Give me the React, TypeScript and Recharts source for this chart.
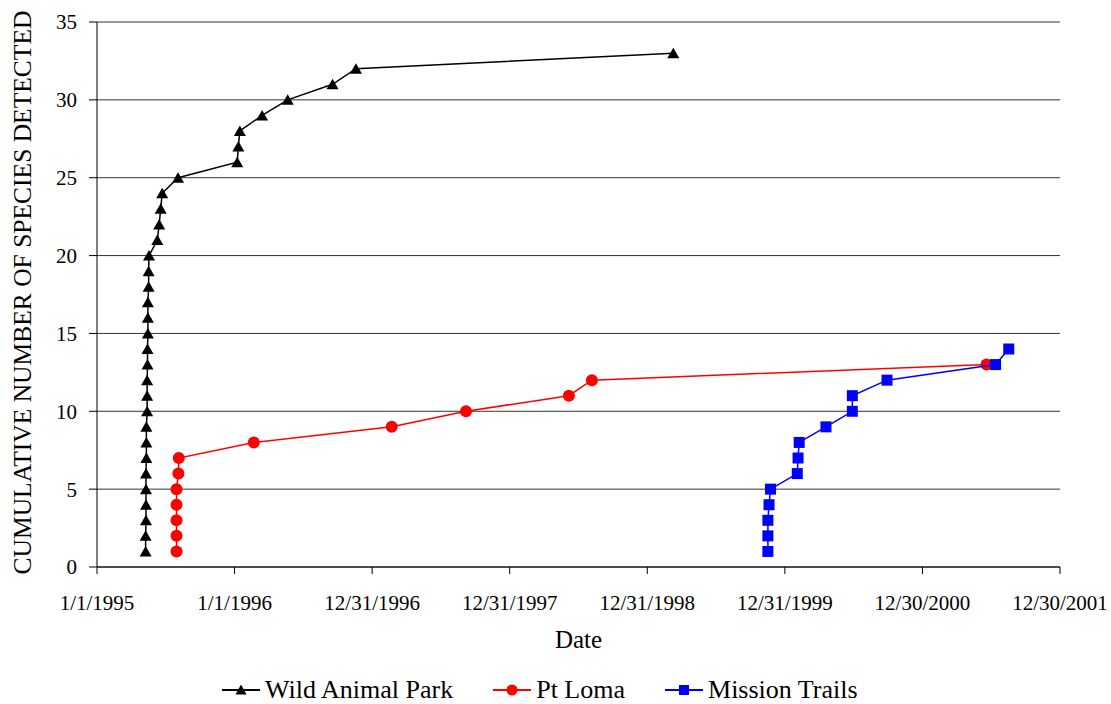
import React from 'react';
import { ScatterChart, Scatter, XAxis, YAxis, CartesianGrid, Legend } from 'recharts';

const FONT = "'Liberation Serif', 'DejaVu Serif', serif";

// X axis: days since 1/1/1995 (Excel date axis, major unit 365 days)
const dateTickDays = [0, 365, 730, 1095, 1460, 1825, 2190, 2555];
const dateTickLabels = ['1/1/1995', '1/1/1996', '12/31/1996', '12/31/1997', '12/31/1998', '12/31/1999', '12/30/2000', '12/30/2001'];
const countTicks = [0, 5, 10, 15, 20, 25, 30, 35];

const wildAnimalParkDays = [129, 129, 130, 130, 130, 130, 131, 131, 131, 133, 133, 133, 134, 134, 135, 135, 135, 137, 137, 138, 160, 165, 169, 173, 215, 372, 375, 379, 438, 506, 625, 687, 1529];
const wildAnimalParkSpecies = [1, 2, 3, 4, 5, 6, 7, 8, 9, 10, 11, 12, 13, 14, 15, 16, 17, 18, 19, 20, 21, 22, 23, 24, 25, 26, 27, 28, 29, 30, 31, 32, 33];

const ptLomaDays = [211, 211, 211, 211, 211, 216, 217, 416, 782, 979, 1252, 1313, 2360];
const ptLomaSpecies = [1, 2, 3, 4, 5, 6, 7, 8, 9, 10, 11, 12, 13];

const missionTrailsDays = [1780, 1780, 1780, 1783, 1787, 1858, 1860, 1863, 1934, 2004, 2004, 2096, 2384, 2419];
const missionTrailsSpecies = [1, 2, 3, 4, 5, 6, 7, 8, 9, 10, 11, 12, 13, 14];

const seriesNames = ['Wild Animal Park', 'Pt Loma', 'Mission Trails'];
const seriesColors = ['#000000', '#ff0000', '#0000ff'];

const toPoints = (days: number[], counts: number[]) => days.map((d, i) => ({ x: d, y: counts[i] }));

const wapData = toPoints(wildAnimalParkDays, wildAnimalParkSpecies);
const plData = toPoints(ptLomaDays, ptLomaSpecies);
const mtData = toPoints(missionTrailsDays, missionTrailsSpecies);

const TriangleShape = (props: any) => {
  const { cx, cy } = props;
  return <path d={`M${cx},${cy - 5.5} L${cx + 6},${cy + 5} L${cx - 6},${cy + 5} Z`} fill={seriesColors[0]} />;
};
const CircleShape = (props: any) => {
  const { cx, cy } = props;
  return <circle cx={cx} cy={cy} r={6} fill={seriesColors[1]} />;
};
const SquareShape = (props: any) => {
  const { cx, cy } = props;
  return <rect x={cx - 5.5} y={cy - 5.5} width={11} height={11} fill={seriesColors[2]} />;
};

const LegendMarker = ({ index }: { index: number }) => {
  const c = seriesColors[index];
  return (
    <svg width={38} height={20} style={{ display: 'block' }}>
      <line x1={0} y1={10} x2={38} y2={10} stroke={c} strokeWidth={2} />
      {index === 0 && <path d="M19,4.5 L24.5,14.5 L13.5,14.5 Z" fill={c} />}
      {index === 1 && <circle cx={19} cy={10} r={5.5} fill={c} />}
      {index === 2 && <rect x={14} y={5} width={10} height={10} fill={c} />}
    </svg>
  );
};

const renderLegend = () => (
  <div
    style={{
      display: 'flex',
      alignItems: 'center',
      boxSizing: 'border-box',
      height: 47,
      paddingTop: 18,
      paddingLeft: 222,
      fontFamily: FONT,
      fontSize: 26,
      color: '#000',
    }}
  >
    {seriesNames.map((name, i) => (
      <div key={name} style={{ display: 'flex', alignItems: 'center', marginRight: 40 }}>
        <LegendMarker index={i} />
        <span style={{ marginLeft: 5, whiteSpace: 'nowrap' }}>{name}</span>
      </div>
    ))}
  </div>
);

const XLabel = (props: any) => {
  const { viewBox } = props;
  return (
    <text x={viewBox.x + viewBox.width / 2} y={viewBox.y + 81} textAnchor="middle" style={{ fontFamily: FONT }} fontSize={25} fill="#000">
      Date
    </text>
  );
};

const YLabel = (props: any) => {
  const { viewBox } = props;
  const x = viewBox.x + 31;
  const y = viewBox.y + viewBox.height / 2 - 2;
  return (
    <text x={x} y={y} transform={`rotate(-90, ${x}, ${y})`} textAnchor="middle" style={{ fontFamily: FONT }} fontSize={25.5} fill="#000">
      CUMULATIVE NUMBER OF SPECIES DETECTED
    </text>
  );
};

export default function App() {
  return (
    <div style={{ position: 'absolute', left: 0, top: 0, width: 1111, height: 704, background: '#fff', fontFamily: FONT }}>
      <ScatterChart width={1111} height={704} margin={{ top: 22, right: 51, left: 0, bottom: 0 }} style={{ fontFamily: FONT }}>
        <CartesianGrid vertical={false} stroke="#333" strokeWidth={1} />
        <XAxis
          type="number"
          dataKey="x"
          domain={[0, 2555]}
          ticks={dateTickDays}
          interval={0}
          tickFormatter={(v: number) => dateTickLabels[dateTickDays.indexOf(v)] ?? ''}
          height={90}
          stroke="#000"
          tickLine={{ stroke: '#000' }}
          tickSize={7}
          tickMargin={21}
          tick={{ fontSize: 21, fill: '#000', style: { fontFamily: FONT } }}
          label={<XLabel />}
          allowDataOverflow
        />
        <YAxis
          type="number"
          dataKey="y"
          domain={[0, 35]}
          ticks={countTicks}
          interval={0}
          width={97}
          stroke="#000"
          tickLine={{ stroke: '#000' }}
          tickSize={8}
          tickMargin={12}
          tick={{ fontSize: 21, fill: '#000', style: { fontFamily: FONT } }}
          label={<YLabel />}
        />
        <Legend verticalAlign="bottom" height={47} content={renderLegend} wrapperStyle={{ left: 0, width: 1111, bottom: 0 }} />
        <Scatter
          name={seriesNames[0]}
          data={wapData}
          shape={<TriangleShape />}
          line={{ stroke: seriesColors[0], strokeWidth: 1.5 }}
          lineJointType="linear"
          isAnimationActive={false}
        />
        <Scatter
          name={seriesNames[1]}
          data={plData}
          shape={<CircleShape />}
          line={{ stroke: seriesColors[1], strokeWidth: 1.5 }}
          lineJointType="linear"
          isAnimationActive={false}
        />
        <Scatter
          name={seriesNames[2]}
          data={mtData}
          shape={<SquareShape />}
          line={{ stroke: seriesColors[2], strokeWidth: 1.5 }}
          lineJointType="linear"
          isAnimationActive={false}
        />
      </ScatterChart>
    </div>
  );
}
